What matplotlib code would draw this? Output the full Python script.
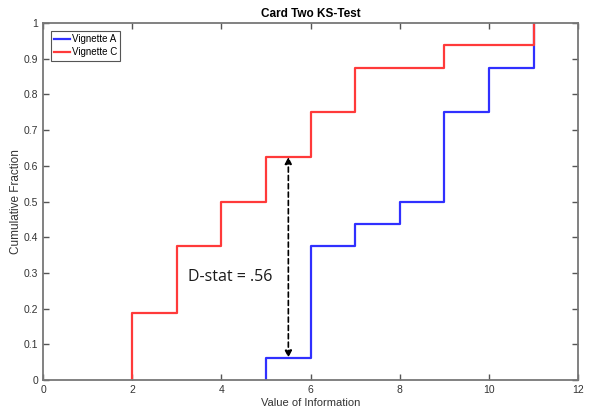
import matplotlib
matplotlib.use("Agg")
import matplotlib.pyplot as plt
import numpy as np

# Empirical CDF steps for the two vignettes
vignette_a_x = [5, 6, 7, 8, 9, 10, 11]
vignette_a_y = [0.0625, 0.375, 0.4375, 0.5, 0.75, 0.875, 1.0]
vignette_c_x = [2, 3, 4, 5, 6, 7, 9, 11]
vignette_c_y = [0.1875, 0.375, 0.5, 0.625, 0.75, 0.875, 0.9375, 1.0]

d_stat_x = 5.5
d_stat_low = 0.0625
d_stat_high = 0.625
d_stat_label = "D-stat = .56"

x_ticks = [0, 2, 4, 6, 8, 10, 12]
y_ticks = [0, 0.1, 0.2, 0.3, 0.4, 0.5, 0.6, 0.7, 0.8, 0.9, 1]
y_tick_labels = ["0", "0.1", "0.2", "0.3", "0.4", "0.5", "0.6", "0.7", "0.8", "0.9", "1"]


def step_path(xs, ys):
    px, py = [xs[0]], [0.0]
    for i, (x, y) in enumerate(zip(xs, ys)):
        px.append(x)
        py.append(y)
        if i + 1 < len(xs):
            px.append(xs[i + 1])
            py.append(y)
    return px, py


plt.rcParams['font.family'] = ['Liberation Sans', 'DejaVu Sans']
fig = plt.figure(figsize=(5.9, 4.19), dpi=100)
ax = fig.add_axes([0.073, 0.093, 0.907, 0.852])

ax_x, ax_y = step_path(vignette_a_x, vignette_a_y)
cx, cy = step_path(vignette_c_x, vignette_c_y)
ax.plot(ax_x, ax_y, color="#3030ff", lw=1.6, label="Vignette A")
ax.plot(cx, cy, color="#ff3a3a", lw=1.6, label="Vignette C")

ax.annotate("", xy=(d_stat_x, d_stat_low), xytext=(d_stat_x, d_stat_high),
            arrowprops=dict(arrowstyle="<|-|>", color="black", lw=1.2,
                            linestyle=(0, (3, 2)), mutation_scale=10,
                            shrinkA=0, shrinkB=0))
ax.text(3.25, 0.29, d_stat_label, fontsize=11.5, family=["Open Sans", "DejaVu Sans"],
        color="#1a1a1a", va="center", ha="left")

ax.set_xlim(0, 12)
ax.set_ylim(0, 1)
ax.set_xticks(x_ticks)
ax.set_yticks(y_ticks)
ax.set_yticklabels(y_tick_labels)
ax.tick_params(direction="in", length=4, width=1, colors="#555555", labelsize=7.5,
               top=True, right=True, labelcolor="#333333")
for s in ax.spines.values():
    s.set_color("#777777")
    s.set_linewidth(1.3)

ax.set_title("Card Two KS-Test", fontsize=8.5, fontweight="bold", pad=4)
ax.set_xlabel("Value of Information", fontsize=8, color="#333333", labelpad=2)
ax.set_ylabel("Cumulative Fraction", fontsize=8.5, color="#333333", labelpad=1)

leg = ax.legend(loc="upper left", fontsize=7, handlelength=1.6, handletextpad=0.2,
                borderpad=0.35, labelspacing=0.3, fancybox=False, framealpha=1,
                borderaxespad=0.8)
leg.get_frame().set_edgecolor("#555555")
leg.get_frame().set_linewidth(0.8)

fig.savefig("out.png", dpi=100)
